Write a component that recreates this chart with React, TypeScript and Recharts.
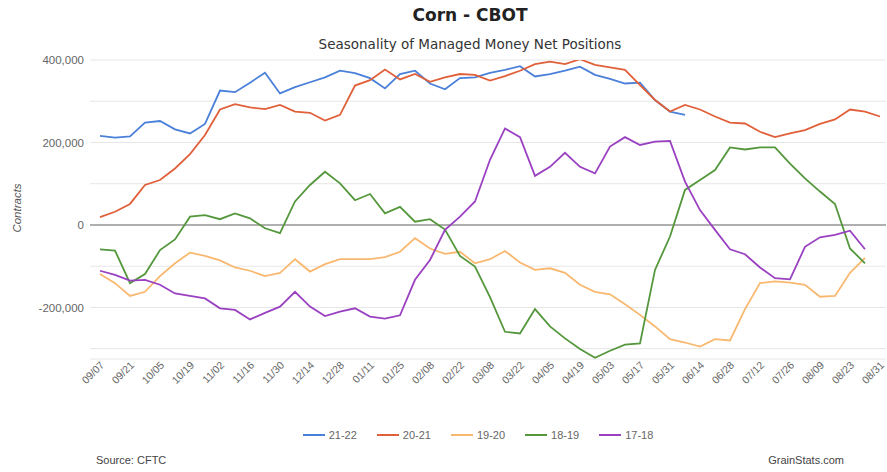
import { LineChart, Line, XAxis, YAxis, CartesianGrid, ReferenceLine, Legend } from 'recharts';

const dates = [
  '09/07', '09/14', '09/21', '09/28', '10/05', '10/12', '10/19', '10/26', '11/02', '11/09',
  '11/16', '11/23', '11/30', '12/07', '12/14', '12/21', '12/28', '01/04', '01/11', '01/18',
  '01/25', '02/01', '02/08', '02/15', '02/22', '03/01', '03/08', '03/15', '03/22', '03/29',
  '04/05', '04/12', '04/19', '04/26', '05/03', '05/10', '05/17', '05/24', '05/31', '06/07',
  '06/14', '06/21', '06/28', '07/05', '07/12', '07/19', '07/26', '08/02', '08/09', '08/16',
  '08/23', '08/30', '08/31',
];

// thousands of contracts, null = no data yet
const s2122 = [
  216, 212, 215, 248, 252, 232, 222, 245, 326, 322, 345, 369, 319, 334, 346, 358, 374, 368, 356, 331,
  366, 374, 343, 329, 356, 358, 369, 376, 385, 360, 366, 374, 384, 364, 354, 343, 345, 303, 275, 267,
  null, null, null, null, null, null, null, null, null, null, null, null, null,
];
const s2021 = [
  19, 32, 51, 97, 109, 137, 172, 218, 280, 293, 285, 281, 291, 275, 272, 253, 267, 338, 351, 377,
  353, 366, 347, 358, 366, 364, 350, 361, 374, 390, 396, 390, 402, 388, 382, 376, 339, 303, 275, 291,
  280, 263, 248, 246, 226, 213, 222, 230, 245, 256, 280, 275, 263,
];
const s1920 = [
  -119, -141, -172, -162, -124, -93, -67, -75, -86, -103, -111, -124, -116, -83, -113, -95, -83, -83, -83, -78,
  -65, -32, -57, -70, -65, -93, -83, -63, -91, -109, -105, -116, -145, -162, -168, -192, -218, -246, -277, -285,
  -295, -277, -280, -204, -141, -137, -140, -145, -174, -172, -116, -80, null,
];
const s1819 = [
  -59, -62, -141, -119, -61, -35, 20, 24, 14, 28, 16, -8, -20, 57, 97, 129, 101, 60, 75, 28,
  44, 8, 14, -11, -75, -101, -175, -259, -263, -204, -246, -275, -301, -322, -305, -290, -287, -109, -28, 85,
  109, 133, 188, 183, 188, 188, 149, 113, 81, 51, -57, -93, null,
];
const s1718 = [
  -111, -121, -135, -133, -145, -166, -172, -178, -202, -206, -229, -213, -198, -162, -198, -221, -210, -202, -222, -227,
  -219, -133, -85, -12, 20, 57, 158, 234, 213, 119, 141, 175, 141, 125, 190, 213, 194, 202, 204, 105,
  36, -12, -59, -71, -103, -129, -132, -53, -30, -24, -14, -59, null,
];

const yTicks = [-300000, -200000, -100000, 0, 100000, 200000, 300000, 400000];

const series = [
  { key: 's2122', name: '21-22', color: '#4a80d9', values: s2122 },
  { key: 's2021', name: '20-21', color: '#e0603a', values: s2021 },
  { key: 's1920', name: '19-20', color: '#f9b870', values: s1920 },
  { key: 's1819', name: '18-19', color: '#54973c', values: s1819 },
  { key: 's1718', name: '17-18', color: '#9a41c2', values: s1718 },
];

const data = dates.map((d, i) => {
  const row: Record<string, string | number | null> = { date: d };
  series.forEach((s) => {
    const v = s.values[i];
    row[s.key] = v == null ? null : v * 1000;
  });
  return row;
});

const font = '"Liberation Sans", Arial, sans-serif';

const DateTick = ({ x, y, payload }: any) => (
  <g transform={`translate(${x + 2},${y})`}>
    <text x={0} y={0} dy={4} textAnchor="end" fill="#666" fontSize={10.5} fontFamily={font} transform="rotate(-45)">
      {payload.value}
    </text>
  </g>
);

const LegendContent = () => (
  <div style={{ display: 'flex', justifyContent: 'center', fontFamily: font, fontSize: 11, color: '#666' }}>
    {series.map((s) => (
      <div key={s.key} style={{ display: 'flex', alignItems: 'center', marginRight: 20 }}>
        <svg width={22} height={10} style={{ marginRight: 4 }}>
          <line x1={0} y1={5} x2={22} y2={5} stroke={s.color} strokeWidth={2} />
        </svg>
        <span>{s.name}</span>
      </div>
    ))}
  </div>
);

export default function App() {
  return (
    <div style={{ position: 'absolute', left: 0, top: 0, width: 887, height: 472, background: '#fff' }}>
      <div style={{ position: 'absolute', left: 270, width: 400, top: 5, textAlign: 'center', fontFamily: '"DejaVu Sans", sans-serif', fontWeight: 'bold', fontSize: 17, color: '#222' }}>
        Corn - CBOT
      </div>
      <div style={{ position: 'absolute', left: 220, width: 500, top: 36, textAlign: 'center', fontFamily: '"DejaVu Sans", sans-serif', fontSize: 13.5, color: '#333' }}>
        Seasonality of Managed Money Net Positions
      </div>
      <LineChart width={887} height={472} data={data} margin={{ top: 60, right: 1, bottom: 63, left: 30 }}>
        <CartesianGrid vertical={false} stroke="#e6e6e6" />
        <XAxis
          dataKey="date"
          interval={1}
          axisLine={false}
          tickLine={false}
          tickSize={0}
          tickMargin={4}
          height={50}
          padding={{ left: 10, right: 6 }}
          tick={<DateTick />}
        />
        <YAxis
          width={60}
          domain={[-325000, 400000]}
          ticks={yTicks}
          allowDataOverflow
          axisLine={false}
          tickLine={false}
          tickSize={0}
          tickMargin={6}
          tick={{ fill: '#666', fontSize: 11.5, fontFamily: font }}
          tickFormatter={(v: number) => (v % 200000 === 0 ? v.toLocaleString('en-US') : '')}
          label={{
            content: () => (
              <text x={17} y={208} textAnchor="middle" fill="#555" fontSize={11.5} fontFamily={font} fontStyle="italic" transform="rotate(-90, 17, 208)" dy={4}>
                Contracts
              </text>
            ),
          }}
        />
        <ReferenceLine y={0} stroke="#999" strokeWidth={1.5} />
        {series.map((s) => (
          <Line
            key={s.key}
            type="linear"
            dataKey={s.key}
            name={s.name}
            stroke={s.color}
            strokeWidth={1.8}
            dot={false}
            isAnimationActive={false}
          />
        ))}
        <Legend verticalAlign="middle" align="center" content={<LegendContent />} wrapperStyle={{ top: 429, left: 90, width: 796 }} />
      </LineChart>
      <div style={{ position: 'absolute', left: 96, top: 454, fontFamily: font, fontSize: 11, color: '#444' }}>Source: CFTC</div>
      <div style={{ position: 'absolute', right: 43, top: 454, fontFamily: font, fontSize: 11, color: '#444' }}>GrainStats.com</div>
    </div>
  );
}
